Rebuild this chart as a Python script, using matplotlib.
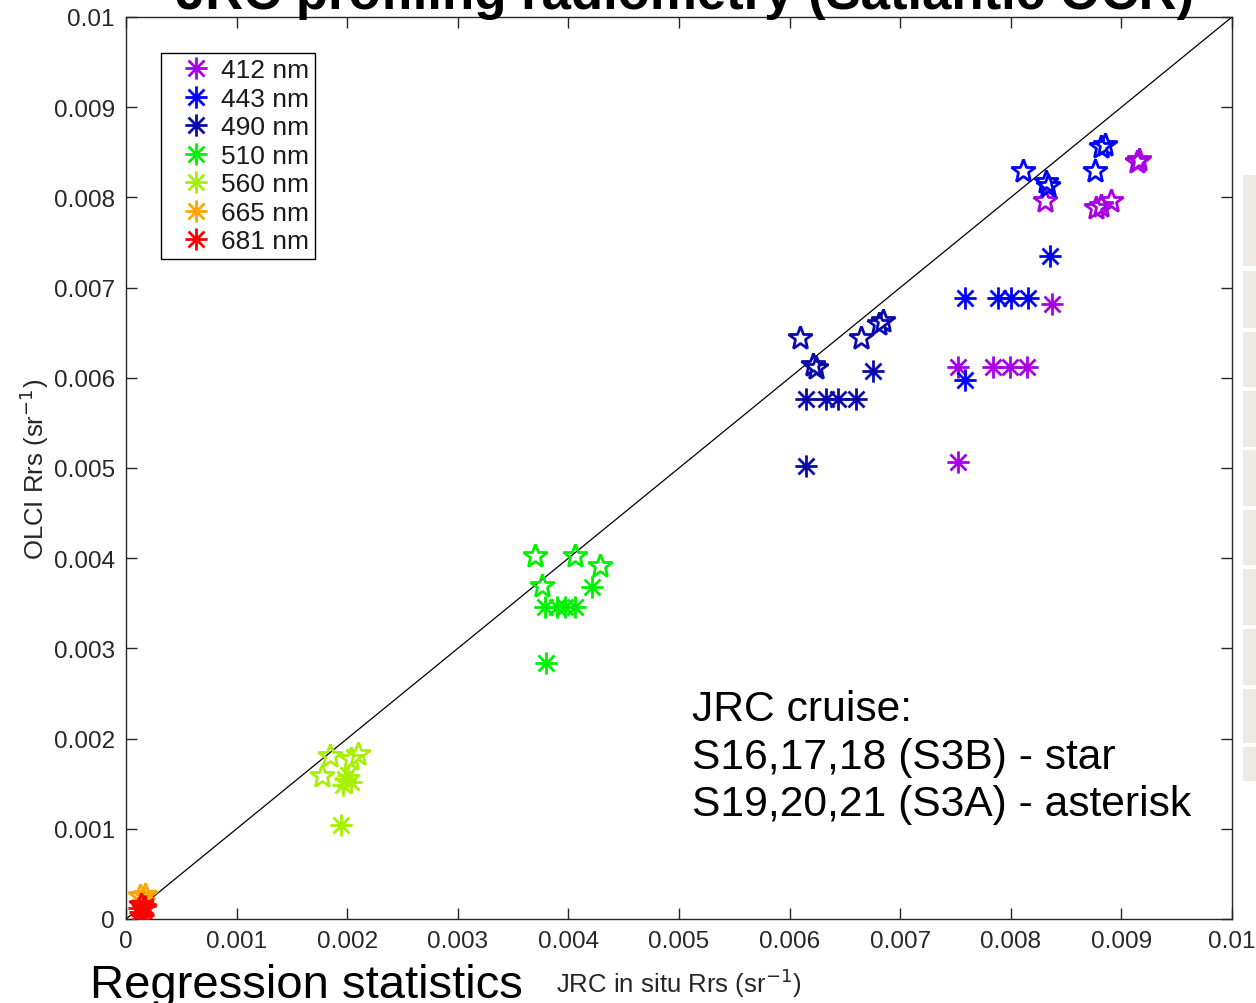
import matplotlib
matplotlib.use("Agg")
import matplotlib.pyplot as plt
from matplotlib.path import Path
from matplotlib.patches import Rectangle

plt.rcParams['font.family'] = ['Liberation Sans', 'DejaVu Sans']

# ---------------- data ----------------
bands = ["412 nm", "443 nm", "490 nm", "510 nm", "560 nm", "665 nm", "681 nm"]
colors = ["#A800E6", "#0000FF", "#0A0AA8", "#00F000", "#A6F000", "#FFA500", "#FF0000"]

# S3B (stars)
star_x = [
    [0.00831, 0.00877, 0.00882, 0.00891, 0.00914, 0.00916],
    [0.00811, 0.00832, 0.00834, 0.00876, 0.00882, 0.00885],
    [0.00609, 0.00621, 0.00624, 0.00665, 0.00681, 0.00684],
    [0.00370, 0.00406, 0.00429, 0.00376],
    [0.00184, 0.00210, 0.00177, 0.00203],
    [0.00013, 0.00017],
    [0.00014, 0.00016],
]
star_y = [
    [0.00796, 0.00788, 0.00790, 0.00796, 0.00839, 0.00841],
    [0.00829, 0.00817, 0.00813, 0.00829, 0.00856, 0.00858],
    [0.00644, 0.00614, 0.00611, 0.00644, 0.00660, 0.00663],
    [0.00402, 0.00402, 0.00391, 0.00369],
    [0.00181, 0.00183, 0.00159, 0.00177],
    [0.00025, 0.00027],
    [0.00016, 0.00012],
]
# S3A (asterisks)
ast_x = [
    [0.00752, 0.00784, 0.00799, 0.00815, 0.00837, 0.00752],
    [0.00759, 0.00788, 0.00800, 0.00816, 0.00835, 0.00759],
    [0.00615, 0.00633, 0.00644, 0.00660, 0.00675, 0.00615],
    [0.00421, 0.00379, 0.00390, 0.00397, 0.00406, 0.00380],
    [0.00198, 0.00203, 0.00196, 0.00201, 0.00194],
    [0.00015, 0.00016],
    [0.00013, 0.00015, 0.00017, 0.00012],
]
ast_y = [
    [0.00612, 0.00612, 0.00612, 0.00612, 0.00682, 0.00507],
    [0.00688, 0.00688, 0.00688, 0.00688, 0.00735, 0.00598],
    [0.00576, 0.00576, 0.00576, 0.00576, 0.00608, 0.00502],
    [0.00368, 0.00346, 0.00346, 0.00346, 0.00346, 0.00284],
    [0.00155, 0.00152, 0.00149, 0.00160, 0.00104],
    [0.00021, 0.00023],
    [0.00008, 0.00004, 0.00014, 0.00012],
]
ticks = [0, 0.001, 0.002, 0.003, 0.004, 0.005, 0.006, 0.007, 0.008, 0.009, 0.01]
tick_labels = ["0", "0.001", "0.002", "0.003", "0.004", "0.005", "0.006", "0.007", "0.008", "0.009", "0.01"]

# ---------------- figure ----------------
fig = plt.figure(figsize=(12.56, 10.04), dpi=100)
ax = fig.add_axes([126 / 1256, 1 - 920 / 1004, (1232 - 126) / 1256, (920 - 18) / 1004])

asterisk = Path(
    [(-1, 0), (1, 0), (0, -1), (0, 1), (-0.72, -0.72), (0.72, 0.72), (-0.72, 0.72), (0.72, -0.72)],
    [Path.MOVETO, Path.LINETO] * 4,
)

ax.plot([0, 0.01], [0, 0.01], color="black", lw=0.9, zorder=1)

handles = []
for i, b in enumerate(bands):
    ax.plot(star_x[i], star_y[i], linestyle="none", marker="*", ms=18,
            markerfacecolor="none", markeredgecolor=colors[i], mew=2.0, zorder=3)
    h, = ax.plot(ast_x[i], ast_y[i], linestyle="none", marker=asterisk, ms=16,
                 markerfacecolor="none", markeredgecolor=colors[i], mew=2.0,
                 label=b, zorder=3)
    handles.append(h)

ax.set_xlim(0, 0.01)
ax.set_ylim(0, 0.01)
ax.set_xticks(ticks)
ax.set_xticklabels(tick_labels)
ax.set_yticks(ticks)
ax.set_yticklabels(tick_labels)
tc = "#262626"
ax.tick_params(direction="in", length=8, width=1, top=True, right=True,
               labelsize=17.5, colors=tc, pad=8)
for s in ax.spines.values():
    s.set_color(tc)
    s.set_linewidth(1)

ax.set_xlabel("JRC in situ Rrs (sr$^{-1}$)", fontsize=18.5, color=tc, labelpad=10)
ax.set_ylabel("OLCI Rrs (sr$^{-1}$)", fontsize=18.5, color=tc, labelpad=2)

leg = ax.legend(handles=handles, loc="upper left", bbox_to_anchor=(0.0316, 0.960),
                borderaxespad=0, fontsize=19, frameon=True, fancybox=False,
                edgecolor="black", framealpha=1, labelspacing=0.17,
                handlelength=2.25, handletextpad=-0.17, borderpad=0.2, numpoints=1)
leg.get_frame().set_linewidth(1.0)
for t in leg.get_texts():
    t.set_color("#1a1a1a")

ax.text(0.00512, 0.00255, "JRC cruise:\nS16,17,18 (S3B) - star\nS19,20,21 (S3A) - asterisk",
        fontsize=30.7, color="black", ha="left", va="top", linespacing=1.25)

# title (cut off at top of image)
fig.text(685 / 1256, 1 - 9 / 1004, "JRC profiling radiometry (Satlantic OCR)",
         fontsize=38, fontweight="bold", ha="center", va="baseline", color="black")
# slide annotation at bottom
fig.text(90 / 1256, 1 - 998 / 1004, "Regression statistics", fontsize=34,
         ha="left", va="baseline", color="black")

# fragment of an adjacent table at the right edge
rows = [(176, 267), (272, 329), (333, 388), (392, 448), (451, 507), (511, 566),
        (570, 626), (630, 686), (690, 744), (748, 782)]
for (y0, y1) in rows:
    fig.patches.append(Rectangle((1243 / 1256, 1 - y1 / 1004), 13 / 1256, (y1 - y0) / 1004,
                                 transform=fig.transFigure, facecolor="#ECEAE2",
                                 edgecolor="none", zorder=0))

fig.savefig("out.png", dpi=100)
